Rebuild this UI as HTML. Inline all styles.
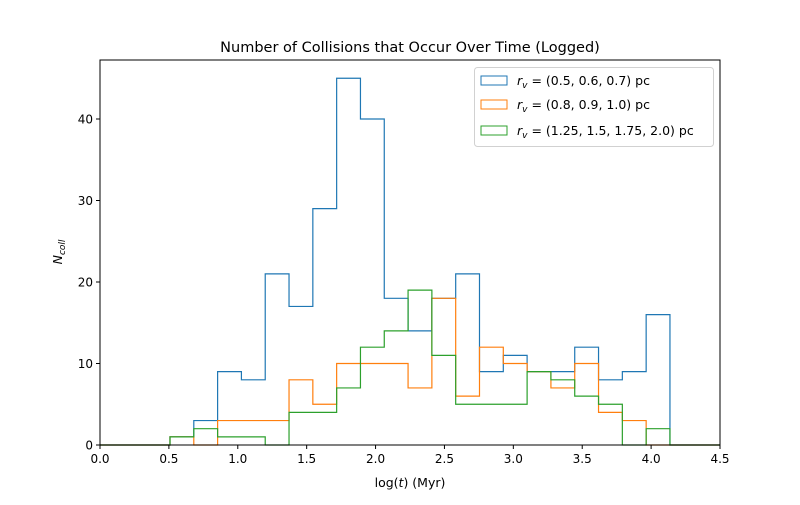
<!DOCTYPE html>
<html><head><meta charset="utf-8"><style>
body{margin:0;background:#fff}
text{font-family:"DejaVu Sans","Liberation Sans",sans-serif;fill:#000}
</style></head><body>
<svg id="chart" width="800" height="500" xmlns="http://www.w3.org/2000/svg">
<rect width="800" height="500" fill="#fff"/>
<text x="410" y="52" font-size="14.5" text-anchor="middle">Number of Collisions that Occur Over Time (Logged)</text>
<g id="series"></g>
<rect x="100" y="60" width="620" height="385" fill="none" stroke="#000" stroke-width="1"/>
<g id="xticks"></g><g id="yticks"></g>
<text x="410" y="487" font-size="12.5" text-anchor="middle">log(<tspan font-style="italic">t</tspan>) (Myr)</text>
<text transform="translate(62,252) rotate(-90)" font-size="12.5" text-anchor="middle"><tspan font-style="italic">N</tspan><tspan font-style="italic" font-size="9" dy="3">coll</tspan></text>
<g>
<rect x="474.5" y="67.5" width="239" height="79" rx="3" fill="#fff" stroke="#ccc" stroke-opacity="0.9"/>
<rect x="481" y="76" width="26" height="9" fill="none" stroke="#1f77b4"/>
<text x="517" y="85" font-size="12.5"><tspan font-style="italic">r</tspan><tspan font-style="italic" font-size="9" dy="3">v</tspan><tspan dy="-3"> = (0.5, 0.6, 0.7) pc</tspan></text>
<rect x="481" y="100" width="26" height="9" fill="none" stroke="#ff7f0e"/>
<text x="517" y="109" font-size="12.5"><tspan font-style="italic">r</tspan><tspan font-style="italic" font-size="9" dy="3">v</tspan><tspan dy="-3"> = (0.8, 0.9, 1.0) pc</tspan></text>
<rect x="481" y="126" width="26" height="9" fill="none" stroke="#2ca02c"/>
<text x="517" y="135" font-size="12.5"><tspan font-style="italic">r</tspan><tspan font-style="italic" font-size="9" dy="3">v</tspan><tspan dy="-3"> = (1.25, 1.5, 1.75, 2.0) pc</tspan></text>
</g>
</svg>
<script>
const binStart = 0.508;
const binWidth = 0.1728;
const blueCounts = [1,3,9,8,21,17,29,45,40,18,14,18,21,9,11,9,9,12,8,9,16];
const orangeCounts = [1,0,3,3,3,8,5,10,10,10,7,18,6,12,10,9,7,10,4,3,0];
const greenCounts = [1,2,1,1,0,4,4,7,12,14,19,11,5,5,5,9,8,6,5,0,2];
const xTicks = [0,0.5,1,1.5,2,2.5,3,3.5,4,4.5];
const xTickLabels = ["0.0","0.5","1.0","1.5","2.0","2.5","3.0","3.5","4.0","4.5"];
const yTicks = [0,10,20,30,40];
const X0=100,X1=720,Y0=445,Y1=60,XMAX=4.5,YMAX=47.24;
const sx=v=>X0+v/XMAX*(X1-X0);
const sy=v=>Y0-v/YMAX*(Y0-Y1);
const NS="http://www.w3.org/2000/svg";
function mk(t,a,p){const e=document.createElementNS(NS,t);for(const k in a)e.setAttribute(k,a[k]);p.appendChild(e);return e;}
const g=document.getElementById('series');
function drawSeries(counts,color,name){
  let d=`M${sx(0)},${sy(0)} L${sx(binStart)},${sy(0)}`;
  counts.forEach((c,i)=>{const a=sx(binStart+i*binWidth),b=sx(binStart+(i+1)*binWidth);d+=` L${a},${sy(c)} L${b},${sy(c)}`;});
  d+=` L${sx(binStart+counts.length*binWidth)},${sy(0)} L${sx(XMAX)},${sy(0)}`;
  const p=mk('path',{d:d,fill:'none',stroke:color,'stroke-width':1.2},g);
  
  
}
drawSeries(blueCounts,'#1f77b4','series-blue');
drawSeries(orangeCounts,'#ff7f0e','series-orange');
drawSeries(greenCounts,'#2ca02c','series-green');
const xt=document.getElementById('xticks');
xTicks.forEach((v,i)=>{
  const l=mk('line',{x1:sx(v),x2:sx(v),y1:Y0,y2:Y0+4,stroke:'#000'},xt);
  
  
  const t=mk('text',{x:sx(v),y:Y0+18,'font-size':12,'text-anchor':'middle'},xt);
  
  
  t.textContent=xTickLabels[i];
});
const yt=document.getElementById('yticks');
yTicks.forEach(v=>{
  const l=mk('line',{x1:X0-4,x2:X0,y1:sy(v),y2:sy(v),stroke:'#000'},yt);
  
  
  const t=mk('text',{x:X0-7,y:sy(v)+4.5,'font-size':12,'text-anchor':'end'},yt);
  
  
  t.textContent=v;
});
</script>
</body></html>
